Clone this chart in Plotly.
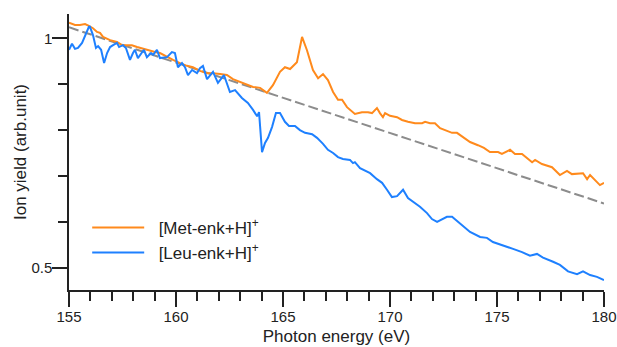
import plotly.graph_objects as go

# ---- data ----
met_energy = [155.00, 155.28, 155.51, 155.75, 155.93, 156.12, 156.31, 156.45, 156.59, 156.92,
              157.24, 157.48, 157.71, 157.94, 158.18, 158.46, 158.69, 159.02, 159.25, 159.58,
              159.86, 160.19, 160.51, 160.79, 161.12, 161.45, 161.73, 162.06, 162.38, 162.66,
              162.99, 163.32, 163.60, 163.93, 164.25, 164.53, 164.86, 165.09, 165.33, 165.65,
              165.89, 166.12, 166.40, 166.64, 166.87, 167.10, 167.34, 167.57, 167.76, 167.99,
              168.36, 168.69, 168.97, 169.16, 169.39, 169.53, 169.67, 169.77, 170.00, 170.33,
              170.56, 170.84, 171.17, 171.50, 171.64, 171.87, 172.10, 172.34, 172.57, 172.90,
              173.13, 173.41, 173.74, 174.11, 174.39, 174.67, 175.05, 175.23, 175.61, 175.84,
              176.17, 176.64, 176.78, 177.10, 177.57, 177.94, 178.27, 178.50, 179.02, 179.21,
              179.35, 179.81, 180.00]
met_yield = [1.034, 1.029, 1.029, 1.031, 1.027, 1.022, 1.014, 1.012, 1.003, 0.996,
             0.992, 0.985, 0.985, 0.985, 0.981, 0.977, 0.974, 0.970, 0.968, 0.959,
             0.953, 0.946, 0.940, 0.937, 0.929, 0.924, 0.924, 0.922, 0.920, 0.911,
             0.905, 0.900, 0.894, 0.892, 0.881, 0.898, 0.927, 0.937, 0.933, 0.948,
             1.003, 0.974, 0.931, 0.913, 0.922, 0.909, 0.883, 0.866, 0.866, 0.850,
             0.835, 0.839, 0.839, 0.837, 0.848, 0.837, 0.828, 0.837, 0.831, 0.828,
             0.822, 0.818, 0.815, 0.815, 0.818, 0.815, 0.815, 0.804, 0.800, 0.794,
             0.794, 0.785, 0.774, 0.767, 0.761, 0.752, 0.752, 0.748, 0.757, 0.748,
             0.748, 0.730, 0.735, 0.726, 0.719, 0.702, 0.711, 0.704, 0.706, 0.693,
             0.702, 0.680, 0.685]

leu_energy = [155.00, 155.14, 155.28, 155.42, 155.61, 155.75, 155.93, 155.98, 156.12, 156.26,
              156.36, 156.50, 156.64, 156.78, 156.92, 157.06, 157.24, 157.34, 157.52, 157.66,
              157.85, 157.99, 158.08, 158.22, 158.41, 158.50, 158.64, 158.83, 158.93, 159.11,
              159.25, 159.44, 159.58, 159.81, 159.95, 160.09, 160.28, 160.42, 160.56, 160.75,
              160.98, 161.12, 161.26, 161.45, 161.59, 161.73, 161.96, 162.24, 162.52, 162.76,
              163.08, 163.36, 163.60, 163.79, 163.88, 164.02, 164.16, 164.30, 164.49, 164.67,
              164.86, 165.09, 165.28, 165.56, 165.79, 166.03, 166.36, 166.59, 166.87, 167.10,
              167.34, 167.57, 167.80, 168.13, 168.27, 168.36, 168.60, 168.83, 169.07, 169.39,
              169.63, 169.86, 170.09, 170.33, 170.61, 170.84, 171.17, 171.40, 171.73, 171.96,
              172.20, 172.43, 172.66, 172.90, 173.18, 173.41, 173.74, 174.21, 174.53, 174.81,
              175.28, 175.75, 176.17, 176.54, 176.87, 177.15, 177.62, 177.94, 178.32, 178.74,
              179.02, 179.35, 179.67, 180.00]
leu_yield = [0.975, 0.988, 0.977, 0.979, 0.990, 1.007, 1.025, 1.025, 1.007, 0.979,
             0.983, 0.975, 0.946, 0.968, 0.981, 0.985, 0.990, 0.981, 0.985, 0.979,
             0.953, 0.968, 0.975, 0.957, 0.970, 0.975, 0.959, 0.968, 0.964, 0.975,
             0.957, 0.959, 0.959, 0.970, 0.968, 0.937, 0.946, 0.937, 0.920, 0.931,
             0.924, 0.935, 0.940, 0.911, 0.920, 0.927, 0.903, 0.920, 0.883, 0.887,
             0.870, 0.859, 0.844, 0.830, 0.839, 0.752, 0.772, 0.783, 0.807, 0.837,
             0.837, 0.818, 0.809, 0.809, 0.800, 0.794, 0.791, 0.783, 0.770, 0.757,
             0.750, 0.741, 0.737, 0.735, 0.728, 0.730, 0.717, 0.711, 0.706, 0.693,
             0.685, 0.670, 0.654, 0.656, 0.670, 0.652, 0.641, 0.633, 0.619, 0.606,
             0.600, 0.606, 0.611, 0.611, 0.600, 0.589, 0.578, 0.567, 0.565, 0.556,
             0.549, 0.541, 0.534, 0.526, 0.530, 0.522, 0.513, 0.506, 0.492, 0.486,
             0.492, 0.484, 0.480, 0.473]

fit_energy = [155.0, 180.0]
fit_yield = [1.024, 0.640]

x_ticks = [155, 160, 165, 170, 175, 180]
y_ticks = [0.5, 1]
y_tick_labels = ["0.5", "1"]

FONT = "Liberation Sans, Arial, Helvetica, sans-serif"
AXIS_COLOR = "#222222"
NB = "\u00a0\u00a0"

fig = go.Figure()
fig.add_trace(go.Scatter(x=fit_energy, y=fit_yield, mode="lines",
                         line=dict(color="#8c8c8c", width=2, dash="10px,4px"),
                         showlegend=False, hoverinfo="skip"))
fig.add_trace(go.Scatter(x=met_energy, y=met_yield, mode="lines",
                         name=NB + "[Met-enk+H]<sup>+</sup>",
                         line=dict(color="#ff8a1c", width=2)))
fig.add_trace(go.Scatter(x=leu_energy, y=leu_yield, mode="lines",
                         name=NB + "[Leu-enk+H]<sup>+</sup>",
                         line=dict(color="#1e80ff", width=2)))

fig.update_layout(
    width=617, height=347,
    margin=dict(l=69, r=13, t=14, b=57),
    paper_bgcolor="white", plot_bgcolor="white",
    font=dict(family=FONT, size=15, color=AXIS_COLOR),
    legend=dict(x=0.034, y=0.29, xanchor="left", yanchor="top",
                bgcolor="rgba(0,0,0,0)", font=dict(size=17),
                itemwidth=52, tracegroupgap=0),
)
fig.update_xaxes(
    range=[155, 180], tickmode="array", tickvals=x_ticks,
    showline=True, linecolor=AXIS_COLOR, linewidth=1.5,
    ticks="outside", ticklen=15, tickwidth=1.5, tickcolor=AXIS_COLOR,
    minor=dict(tickmode="linear", tick0=155, dtick=1, ticks="outside",
               ticklen=9, tickwidth=1.5, tickcolor=AXIS_COLOR),
    showgrid=False, zeroline=False, automargin=False,
    tickfont=dict(size=15), ticklabelstandoff=-3,
    title=dict(text="Photon energy (eV)", font=dict(size=17), standoff=6),
)
fig.update_yaxes(
    range=[0.4514, 1.053], tickmode="array", tickvals=y_ticks, ticktext=y_tick_labels,
    showline=True, linecolor=AXIS_COLOR, linewidth=1.5,
    ticks="outside", ticklen=15, tickwidth=1.5, tickcolor=AXIS_COLOR,
    minor=dict(tickmode="linear", tick0=0, dtick=0.1, ticks="outside",
               ticklen=9, tickwidth=1.5, tickcolor=AXIS_COLOR),
    showgrid=False, zeroline=False, automargin=False,
    tickfont=dict(size=15), ticklabelstandoff=-3,
    title=dict(text="Ion yield (arb.unit)", font=dict(size=17), standoff=0),
)

fig.write_html("out.html")
